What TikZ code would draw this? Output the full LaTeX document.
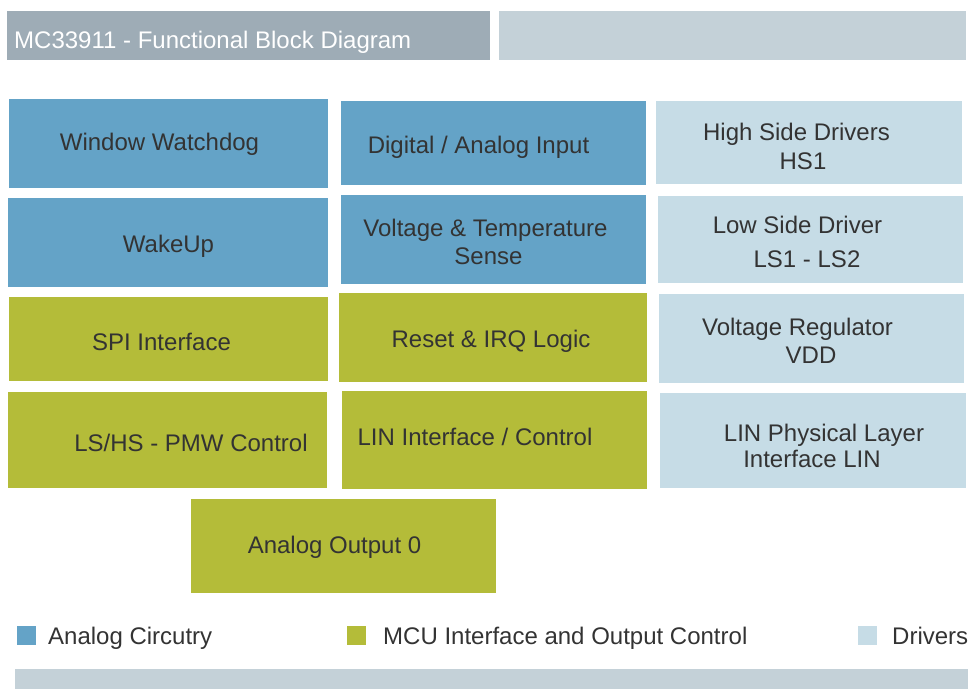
\documentclass[tikz,border=0pt]{standalone}
\usepackage{fontspec}
\setmainfont{Liberation Sans}
\usepackage{tikz}
\usetikzlibrary{positioning,fit}
\definecolor{analogblue}{RGB}{100,163,199}
\definecolor{mcugreen}{RGB}{180,188,57}
\definecolor{driverblue}{RGB}{198,220,230}
\definecolor{headgray}{RGB}{158,172,182}
\definecolor{headlight}{RGB}{196,209,216}
\definecolor{labelgray}{RGB}{51,51,51}

\tikzset{
  blk/.style={draw=none, inner sep=0pt},
  analog/.style={blk, fill=analogblue},
  mcu/.style={blk, fill=mcugreen},
  driver/.style={blk, fill=driverblue},
  lbl/.style={anchor=base, inner sep=0pt, text=labelgray, font=\fontsize{24}{28}\selectfont},
}

\begin{document}
\begin{tikzpicture}[x=1pt, y=-1pt]
  \useasboundingbox (0,0) rectangle (969,689);

  % header bars
  \node[blk, fill=headgray, fit={(7,11) (490,60)}] (headleft) {};
  \node[blk, fill=headlight, fit={(499,11) (966,60)}] (headright) {};
  \node[lbl, anchor=base west, text=white] (title) at (14,48) {MC33911 - Functional Block Diagram};

  % left column
  \node[analog, fit={(9,99) (328,188)}] (watchdog) {};
  \node[analog, fit={(8,198) (328,287)}] (wakeup) {};
  \node[mcu, fit={(9,297) (328,381)}] (spi) {};
  \node[mcu, fit={(8,392) (327,488)}] (pwm) {};
  \node[lbl] (watchdog-t) at (159.5,150) {Window Watchdog};
  \node[lbl] (wakeup-t) at (168.5,252) {WakeUp};
  \node[lbl] (spi-t) at (161.5,350) {SPI Interface};
  \node[lbl] (pwm-t) at (191,451) {LS/HS - PMW Control};

  % middle column
  \node[analog, fit={(341,101) (646,185)}] (dainput) {};
  \node[analog, fit={(341,195) (646,284)}] (vtsense) {};
  \node[mcu, fit={(339,293) (647,382)}] (reset) {};
  \node[mcu, fit={(342,391) (647,489)}] (linif) {};
  \node[mcu, fit={(191,499) (496,593)}] (aout) {};
  \node[lbl] (dainput-t) at (478.5,153) {Digital / Analog Input};
  \node[lbl] (vtsense-t1) at (485.5,236) {Voltage \& Temperature};
  \node[lbl] (vtsense-t2) at (488.5,264) {Sense};
  \node[lbl] (reset-t) at (491,347) {Reset \& IRQ Logic};
  \node[lbl] (linif-t) at (475,445) {LIN Interface / Control};
  \node[lbl] (aout-t) at (334.5,553) {Analog Output 0};

  % right column
  \node[driver, fit={(656,101) (962,184)}] (hsd) {};
  \node[driver, fit={(658,196) (963,283)}] (lsd) {};
  \node[driver, fit={(659,294) (964,383)}] (vreg) {};
  \node[driver, fit={(660,393) (966,488)}] (linphy) {};
  \node[lbl] (hsd-t1) at (796.5,140) {High Side Drivers};
  \node[lbl] (hsd-t2) at (803,169) {HS1};
  \node[lbl] (lsd-t1) at (797.5,233) {Low Side Driver};
  \node[lbl] (lsd-t2) at (807,267) {LS1 - LS2};
  \node[lbl] (vreg-t1) at (797.5,335) {Voltage Regulator};
  \node[lbl] (vreg-t2) at (811,363) {VDD};
  \node[lbl] (linphy-t1) at (824,441) {LIN Physical Layer};
  \node[lbl] (linphy-t2) at (812,467) {Interface LIN};

  % legend
  \node[analog, fit={(17,626) (36,645)}] (key-analog) {};
  \node[mcu, fit={(347,626) (366,645)}] (key-mcu) {};
  \node[driver, fit={(858,626) (877,645)}] (key-driver) {};
  \node[lbl, anchor=base west] (key-analog-t) at (48,644) {Analog Circutry};
  \node[lbl, anchor=base west] (key-mcu-t) at (383,644) {MCU Interface and Output Control};
  \node[lbl, anchor=base west] (key-driver-t) at (892,644) {Drivers};

  % footer bar
  \node[blk, fill=headlight, fit={(15,669) (968,689)}] (footer) {};
\end{tikzpicture}
\end{document}
